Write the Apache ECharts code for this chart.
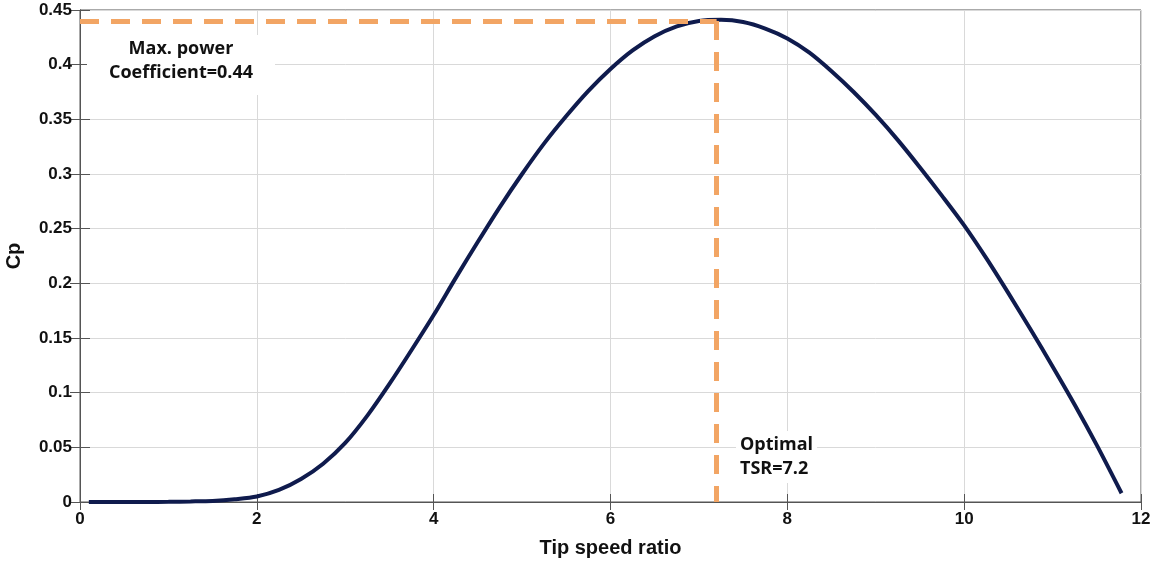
<!DOCTYPE html>
<html>
<head>
	<meta charset="utf-8">
	<style>
		html, body { margin: 0; padding: 0; background: #fff; }
		#chart { width: 1158px; height: 561px; }
	</style>
</head>
<body>
	<div id="chart"></div>
	<script src="https://cdn.jsdelivr.net/npm/echarts@6/dist/echarts.min.js"></script>
	<script>
	// Cp curve (tip speed ratio, Cp)
	var tsr = [0.1, 0.25, 0.5, 0.75, 1.0, 1.25, 1.5, 1.75, 2.0, 2.25, 2.5, 2.75, 3.0, 3.25, 3.5, 3.75, 4.0, 4.25, 4.5, 4.75, 5.0, 5.25, 5.5, 5.75, 6.0, 6.25, 6.5, 6.75, 7.0, 7.25, 7.5, 7.75, 8.0, 8.25, 8.5, 8.75, 9.0, 9.25, 9.5, 9.75, 10.0, 10.25, 10.5, 10.75, 11.0, 11.25, 11.5, 11.78];
	var cp  = [0, 0, 0, 0, 0.0002, 0.0005, 0.001, 0.0025, 0.005, 0.011, 0.021, 0.035, 0.054, 0.079, 0.108, 0.139, 0.171, 0.205, 0.238, 0.270, 0.300, 0.328, 0.353, 0.376, 0.396, 0.413, 0.426, 0.435, 0.440, 0.441, 0.439, 0.433, 0.424, 0.411, 0.394, 0.375, 0.354, 0.331, 0.306, 0.280, 0.253, 0.223, 0.191, 0.158, 0.124, 0.089, 0.052, 0.008];
	var xTicks = [0, 2, 4, 6, 8, 10, 12];
	var optTsr = 7.2;
	var maxCp = 0.44;

	var byId = function(id) {
		return document.getElementById(id);
	};
	var curve = tsr.map(function(x, i) { return [x, cp[i]]; });
	var labelFont = { fontFamily: 'Liberation Sans', fontWeight: 'bold', fontSize: 17, color: '#111' };
	var nameFont = { fontFamily: 'Liberation Sans', fontWeight: 'bold', fontSize: 20, color: '#111' };
	var noteFont = 'bold 18px "Open Sans"';
	var axisColor = '#555';

	var chart = echarts.init(byId('chart'));
	chart.setOption({
		animation: false,
		grid: {
			left: 80, right: 17, top: 10, bottom: 59,
			containLabel: false, outerBoundsMode: 'none',
			show: true, borderColor: axisColor, borderWidth: 1
		},
		xAxis: [{
			type: 'value', min: 0, max: 12, interval: 2,
			axisLine: { show: true, lineStyle: { color: axisColor } },
			axisTick: { show: true, inside: true, length: 8, lineStyle: { color: axisColor } },
			axisLabel: Object.assign({ margin: 9, formatter: function(v) { return xTicks.indexOf(v) >= 0 ? v : ''; } }, labelFont),
			splitLine: { show: true, lineStyle: { color: '#d9d9d9' } },
			name: 'Tip speed ratio', nameLocation: 'middle', nameGap: 36,
			nameTextStyle: nameFont
		}, {
			type: 'value', min: 0, max: 12, interval: 2, position: 'top',
			axisLine: { show: true, lineStyle: { color: axisColor } },
			axisTick: { show: true, inside: true, length: 8, lineStyle: { color: axisColor } },
			axisLabel: { show: false }, splitLine: { show: false }
		}],
		yAxis: [{
			type: 'value', min: 0, max: 0.45, interval: 0.05,
			axisLine: { show: true, lineStyle: { color: axisColor } },
			axisTick: { show: true, inside: true, length: 10, lineStyle: { color: axisColor } },
			axisLabel: Object.assign({ margin: 8, formatter: function(v) { return +v.toFixed(2); } }, labelFont),
			splitLine: { show: true, lineStyle: { color: '#d9d9d9' } },
			name: 'Cp', nameLocation: 'middle', nameGap: 56, nameRotate: 90,
			nameTextStyle: nameFont
		}, {
			type: 'value', min: 0, max: 0.45, interval: 0.05, position: 'right',
			axisLine: { show: true, lineStyle: { color: axisColor } },
			axisTick: { show: true, inside: true, length: 10, lineStyle: { color: axisColor } },
			axisLabel: { show: false }, splitLine: { show: false }
		}],
		series: [{
			type: 'line',
			data: curve,
			smooth: 0.3,
			symbol: 'none',
			lineStyle: { width: 4, color: '#0f1b4d' },
			markLine: {
				silent: true,
				symbol: 'none',
				label: { show: false },
				lineStyle: { type: [19, 12], width: 5, color: '#f2a564' },
				data: [
					[{ coord: [0, maxCp] }, { coord: [optTsr, maxCp] }],
					[{ coord: [optTsr, maxCp] }, { coord: [optTsr, 0] }]
				]
			},
			z: 3
		}],
		graphic: [
			{ type: 'text', x: 181, y: 35, z: 10, style: {
				text: 'Max. power\nCoefficient=0.44', font: noteFont, fill: '#111', align: 'center',
				lineHeight: 24, backgroundColor: '#fff', padding: [2, 22, 10, 22] } },
			{ type: 'text', x: 736, y: 431, z: 10, style: {
				text: 'Optimal\nTSR=7.2', font: noteFont, fill: '#111',
				lineHeight: 24, backgroundColor: '#fff', padding: [2, 4] } }
		]
	});
	</script>
</body>
</html>
